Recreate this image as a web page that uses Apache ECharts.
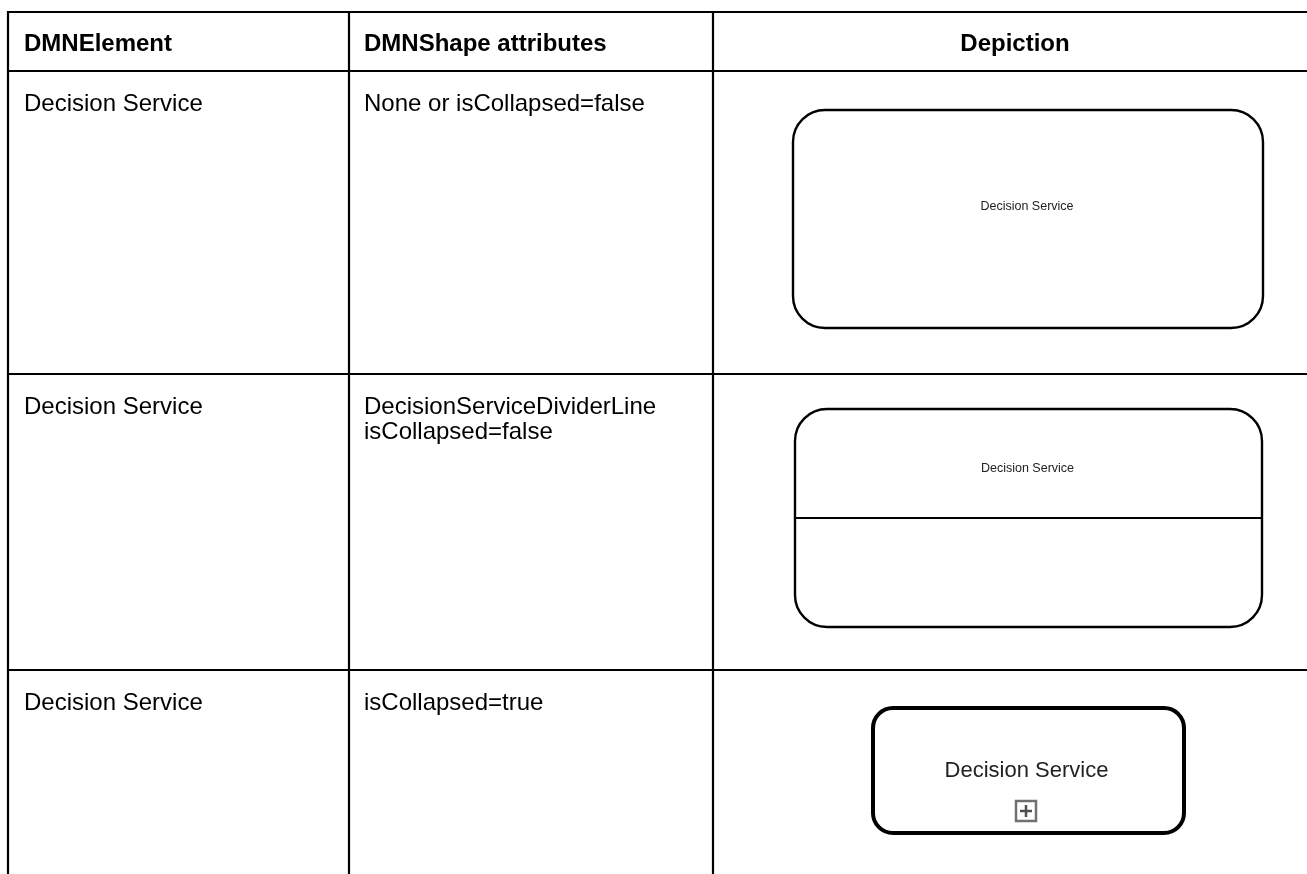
<!DOCTYPE html>
<html>
<head>
<meta charset="utf-8">
<script src="https://cdn.jsdelivr.net/npm/echarts@6/dist/echarts.min.js"></script>
<style>
html,body{margin:0;padding:0;background:#fff;}
#chart{width:1307px;height:874px;}
</style>
</head>
<body>
<div id="chart"></div>
<script>
// ---- table content ----
var headers = ['DMNElement', 'DMNShape attributes', 'Depiction'];
var elements = ['Decision Service', 'Decision Service', 'Decision Service'];
var attributes = [
  ['None or isCollapsed=false'],
  ['DecisionServiceDividerLine', 'isCollapsed=false'],
  ['isCollapsed=true']
];
var depictionLabels = ['Decision Service', 'Decision Service', 'Decision Service'];
var depictionKinds = ['expanded', 'divider', 'collapsed'];

// ---- layout ----
var colX = [8, 349, 713, 1320];
var rowY = [12, 71, 374, 670, 880];
var FONT = '"Liberation Sans", Arial, sans-serif';

var g = [];
function line(x1, y1, x2, y2, w, c, z) {
  g.push({type: 'line', shape: {x1: x1, y1: y1, x2: x2, y2: y2},
    style: {stroke: c || '#000', lineWidth: w || 2}, z: z || 10});
}
function text(t, x, y, size, weight, align, color) {
  g.push({type: 'text', x: x, y: y, z: 20,
    style: {text: t, fill: color || '#000',
      font: (weight || 'normal') + ' ' + size + 'px ' + FONT,
      align: align || 'left', textAlign: align || 'left',
      verticalAlign: 'middle', textVerticalAlign: 'middle'}});
}

// grid lines
for (var i = 0; i < 4; i++) line(colX[0] - 1, rowY[i], 1307, rowY[i], 2.2);
for (var j = 0; j < 3; j++) line(colX[j], rowY[0] - 1, colX[j], 874, 2.2);

// header
text(headers[0], 24, 44, 24, 'bold', 'left');
text(headers[1], 364, 44, 24, 'bold', 'left');
text(headers[2], 1015, 44, 24, 'bold', 'center');

// body rows
for (var r = 0; r < elements.length; r++) {
  var rowTop = rowY[r + 1];
  text(elements[r], 24, rowTop + 33, 24, 'normal', 'left');
  for (var k = 0; k < attributes[r].length; k++) {
    text(attributes[r][k], 364, rowTop + 33 + k * 25, 24, 'normal', 'left');
  }
}

// depictions
var boxes = [
  {x: 793, y: 110, w: 470, h: 218, r: 32, lw: 2.4},
  {x: 795, y: 409, w: 467, h: 218, r: 32, lw: 2.4},
  {x: 873, y: 708, w: 311, h: 125, r: 20, lw: 4}
];
for (var b = 0; b < boxes.length; b++) {
  var bx = boxes[b];
  g.push({type: 'rect', z: 5,
    shape: {x: bx.x, y: bx.y, width: bx.w, height: bx.h, r: bx.r},
    style: {fill: '#fff', stroke: '#000', lineWidth: bx.lw}});
  var cx = bx.x + bx.w / 2;
  if (depictionKinds[b] === 'expanded') {
    text(depictionLabels[b], cx - 1, 207, 12.5, 'normal', 'center', '#222');
  } else if (depictionKinds[b] === 'divider') {
    line(bx.x, 518, bx.x + bx.w, 518, 1.8);
    text(depictionLabels[b], cx - 1, 469, 12.5, 'normal', 'center', '#222');
  } else {
    text(depictionLabels[b], cx - 2, 771, 22, 'normal', 'center', '#222');
    g.push({type: 'rect', z: 22,
      shape: {x: 1016, y: 801, width: 20, height: 20},
      style: {fill: '#fff', stroke: '#707070', lineWidth: 2.5}});
    line(1020, 811, 1032, 811, 2.5, '#505050', 30);
    line(1026, 805, 1026, 817, 2.5, '#505050', 30);
  }
}

var chart = echarts.init(document.getElementById('chart'));
chart.setOption({
  backgroundColor: '#fff',
  animation: false,
  graphic: {elements: g}
});
</script>
</body>
</html>
